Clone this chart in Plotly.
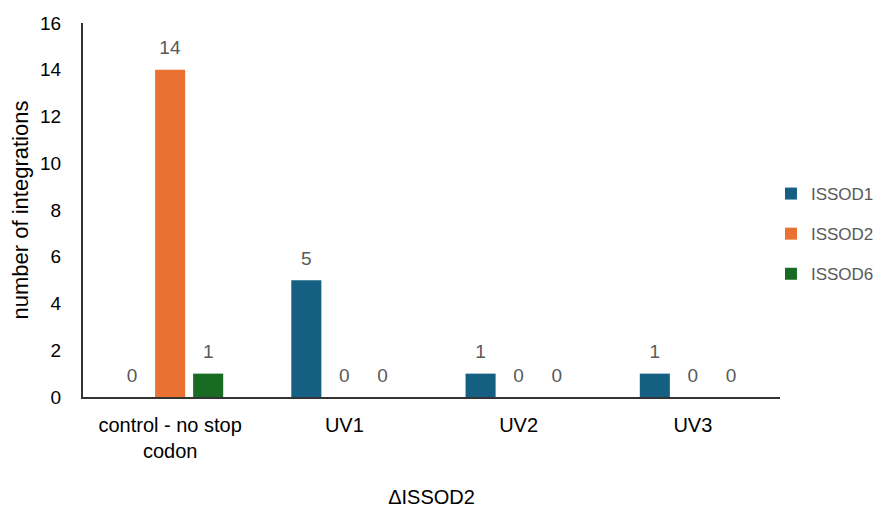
import plotly.graph_objects as go

categories = ["control - no stop<br>codon", "UV1", "UV2", "UV3"]
issod1 = [0, 5, 1, 1]
issod2 = [14, 0, 0, 0]
issod6 = [1, 0, 0, 0]
series_names = ["ISSOD1", "ISSOD2", "ISSOD6"]
colors = ["#156082", "#E97132", "#196B24"]
y_ticks = [0, 2, 4, 6, 8, 10, 12, 14, 16]

FONT = "Liberation Sans, Arial, sans-serif"

fig = go.Figure()
for name, vals, col in zip(series_names, [issod1, issod2, issod6], colors):
    fig.add_trace(go.Bar(
        x=categories, y=vals, name=name, marker_color=col,
        marker_line_width=0,
        text=[f"<span style='font-size:19px'>{v}</span><br> " for v in vals],
        textposition="outside",
        textfont=dict(color="#595959", size=8, family=FONT),
        cliponaxis=False, legendgroup=name,
    ))

fig.update_layout(
    width=879, height=503,
    margin=dict(l=75, r=107, t=15, b=114, autoexpand=False),
    paper_bgcolor="white", plot_bgcolor="white",
    barmode="group", bargap=0.345, bargroupgap=0.21,
    font=dict(family=FONT, size=19, color="black"),
    showlegend=True,
    uniformtext=dict(mode=False),
    legend=dict(
        xref="container", yref="container",
        x=0.868, y=0.666,
        xanchor="left", yanchor="top",
        font=dict(size=17, color="#595959", family=FONT),
        traceorder="grouped", tracegroupgap=15,
        itemwidth=30,
    ),
)
fig.update_xaxes(
    showline=True, linecolor="#333333", linewidth=2,
    ticks="", showgrid=False, automargin=False,
    tickfont=dict(size=20, color="black"), ticklabelstandoff=9,
    title=dict(text="ΔISSOD2", font=dict(size=20, color="black"), standoff=29),
)
fig.update_yaxes(
    range=[0, 16], tickvals=y_ticks, showline=True, linecolor="#333333", linewidth=2,
    ticks="", showgrid=False, zeroline=False, automargin=False,
    tickfont=dict(size=19, color="black"), ticklabelstandoff=16,
    title=dict(text="number of integrations", font=dict(size=22, color="black"), standoff=8),
)

fig.write_html("out.html")
